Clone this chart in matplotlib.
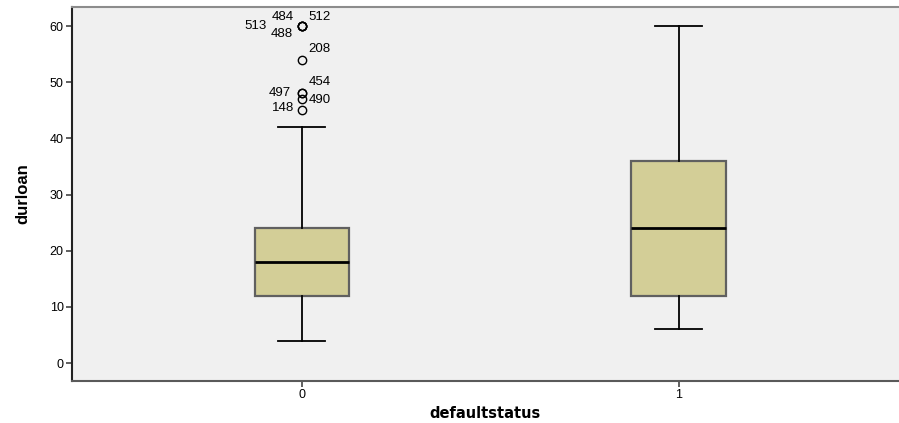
import matplotlib
matplotlib.use("Agg")
import matplotlib.pyplot as plt

plt.rcParams['font.family'] = ['Liberation Sans', 'DejaVu Sans']

# Box summary per default status
categories = ["0", "1"]
whisker_low = [4, 6]
q1 = [12, 12]
medians = [18, 24]
q3 = [24, 36]
whisker_high = [42, 60]

# Outlying cases (group 0) with their case numbers
outlier_values = [60, 60, 60, 60, 54, 48, 48, 47, 45]
outlier_ids = ["484", "512", "513", "488", "208", "454", "497", "490", "148"]
# label placement around each case marker (pixels)
label_offsets = [(-19, 9), (18, 9), (-46, 0), (-20, -8), (18, 11),
                 (18, 11), (-22, 0), (18, -1), (-19, 2)]

y_ticks = [0, 10, 20, 30, 40, 50, 60]

fig = plt.figure(figsize=(8.99, 4.23), dpi=100)
ax = fig.add_axes([72 / 899, 42 / 423, 1 - 72 / 899, 374 / 423])
ax.set_facecolor("#F0F0F0")

stats = []
for i, cat in enumerate(categories):
    stats.append(dict(label=cat, whislo=whisker_low[i], q1=q1[i], med=medians[i],
                      q3=q3[i], whishi=whisker_high[i],
                      fliers=outlier_values if i == 0 else []))

positions = [0, 1]
ax.bxp(stats, positions=positions, widths=0.25, patch_artist=True,
       boxprops=dict(facecolor="#D3CE97", edgecolor="#606060", linewidth=1.6),
       medianprops=dict(color="black", linewidth=2.0),
       whiskerprops=dict(color="black", linewidth=1.3),
       capprops=dict(color="black", linewidth=1.3),
       capwidths=0.125,
       flierprops=dict(marker="o", markerfacecolor="none", markeredgecolor="black",
                       markersize=6, markeredgewidth=1.0))

for val, lab, (dx, dy) in zip(outlier_values, outlier_ids, label_offsets):
    ax.annotate(lab, xy=(positions[0], val), xytext=(dx, dy),
                textcoords="offset pixels", ha="center", va="center",
                fontsize=9.5, color="black")

ax.set_xlim(-0.61, 1.585)
ax.set_ylim(-3.2, 63.4)
ax.set_yticks(y_ticks)
ax.set_xticks(positions)
ax.set_xticklabels(categories)
ax.tick_params(axis="both", labelsize=9, length=4, width=1.2, color="#444444", pad=2)

ax.set_xlabel("defaultstatus", fontsize=10.5, fontweight="bold", labelpad=3,
              family=["DejaVu Sans"])
ax.set_ylabel("durloan", fontsize=12, fontweight="bold", labelpad=14,
              family=["Liberation Sans Narrow", "Liberation Sans"])

ax.spines["right"].set_visible(False)
ax.spines["top"].set_color("#8C8C8C")
ax.spines["top"].set_linewidth(1.5)
ax.spines["bottom"].set_color("#5A5A5A")
ax.spines["bottom"].set_linewidth(1.5)
ax.spines["left"].set_color("#222222")
ax.spines["left"].set_linewidth(1.5)

fig.savefig("out.png", dpi=100, facecolor="white")
